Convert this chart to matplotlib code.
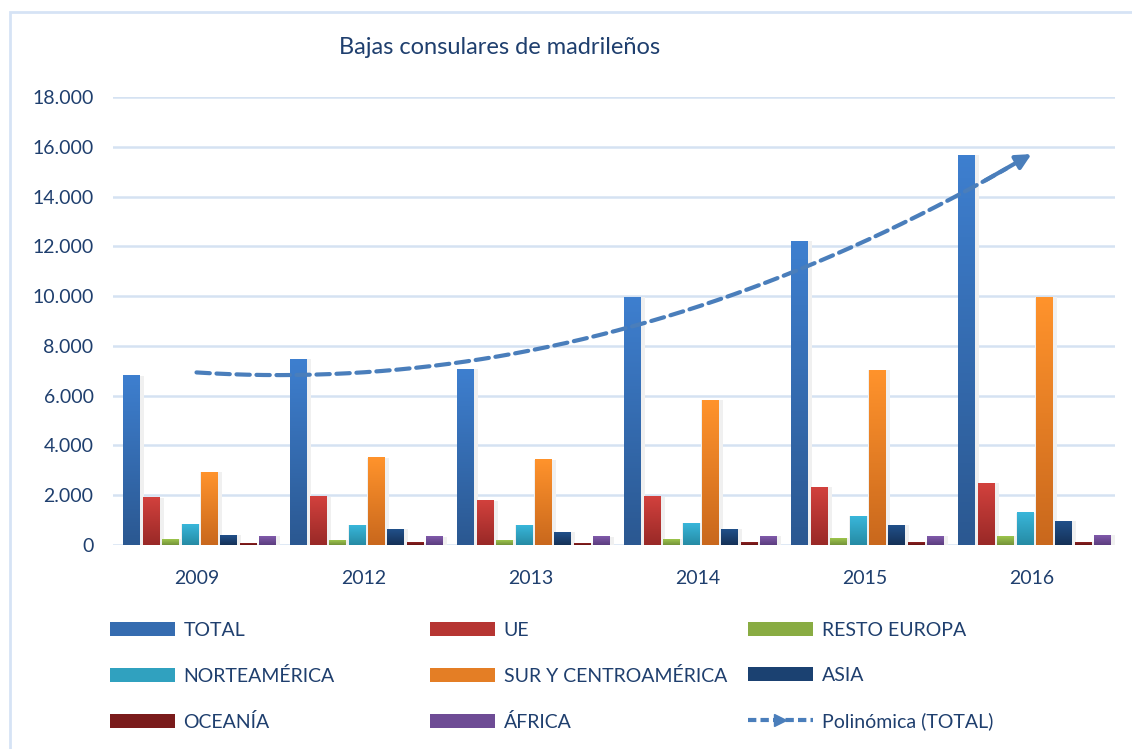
import numpy as np
import matplotlib
matplotlib.use('Agg')
import matplotlib.pyplot as plt
from matplotlib.patches import Patch, Rectangle
from matplotlib.lines import Line2D
from matplotlib.colors import LinearSegmentedColormap
from matplotlib.ticker import FuncFormatter

plt.rcParams['font.family'] = ['Lato', 'DejaVu Sans']

# data
years = ['2009', '2012', '2013', '2014', '2015', '2016']
series = ['TOTAL', 'UE', 'RESTO EUROPA', 'NORTEAMÉRICA', 'SUR Y CENTROAMÉRICA',
          'ASIA', 'OCEANÍA', 'ÁFRICA']
total = [6800, 7470, 7070, 9960, 12210, 15660]
ue = [1890, 1930, 1770, 1930, 2330, 2490]
resto_europa = [240, 200, 200, 240, 280, 360]
norteamerica = [840, 800, 800, 880, 1160, 1290]
sur_centro = [2930, 3500, 3420, 5820, 7030, 9960]
asia = [400, 640, 520, 640, 800, 960]
oceania = [50, 100, 80, 120, 120, 120]
africa = [360, 340, 330, 360, 360, 400]
values = [total, ue, resto_europa, norteamerica, sur_centro, asia, oceania, africa]

# gradient colours (top, bottom)
colors = [('#3E7FCF', '#2B5891'), ('#D2413D', '#992927'), ('#9DC54C', '#74933A'),
          ('#39B6DA', '#268BA4'), ('#FF932C', '#C9681D'), ('#21508A', '#153157'),
          ('#8E2222', '#661414'), ('#805AAB', '#5C3D7E')]
txt = '#1F3F6E'

fig = plt.figure(figsize=(11.32, 7.49), dpi=100)
ax = fig.add_axes([113 / 1132, 1 - 545 / 749, 1002 / 1132, 448 / 749])

x = np.arange(len(years))
pitch = 0.116
bw = 0.099
for i, (vals, (ctop, cbot)) in enumerate(zip(values, colors)):
    pos = x + (i - 3.5) * pitch + 0.018
    # soft shadow
    ax.bar(pos + 0.012, vals, bw + 0.03, color='#F0F0F0', zorder=1)
    bars = ax.bar(pos, vals, bw, color=cbot, zorder=3)
    cmap = LinearSegmentedColormap.from_list('g%d' % i, [cbot, ctop])
    grad = np.linspace(0, 1, 100).reshape(-1, 1)
    for b in bars:
        ax.imshow(grad, cmap=cmap, origin='lower', aspect='auto', zorder=3.5,
                  extent=[b.get_x(), b.get_x() + b.get_width(), 0, b.get_height()])

# polynomial trend (order 2) over TOTAL
coef = np.polyfit(x, total, 2)
xt = np.linspace(0, 5, 200)
yt = np.polyval(coef, xt)
ax.plot(xt[:-6], yt[:-6], color='#4A7EBB', lw=3, ls=(0, (3.2, 1.6)),
        dash_capstyle='round', zorder=5)
ax.annotate('', xy=(xt[-1], yt[-1]), xytext=(xt[-12], yt[-12]),
            arrowprops=dict(arrowstyle='-|>,head_length=0.9,head_width=0.45',
                            color='#4A7EBB', lw=3, shrinkA=0, shrinkB=0), zorder=6)

ax.set_xlim(-0.5, 5.5)
ax.set_ylim(0, 18000)
ax.set_yticks(np.arange(0, 18001, 2000))
ax.yaxis.set_major_formatter(FuncFormatter(lambda v, p: '{:,.0f}'.format(v).replace(',', '.')))
ax.set_xticks(x)
ax.set_xticklabels(years)
ax.grid(axis='y', color='#D5E2F2', lw=1.8, zorder=0)
ax.set_axisbelow(True)
for s in ax.spines.values():
    s.set_visible(False)
ax.tick_params(length=0, labelsize=14, colors=txt)
ax.tick_params(axis='y', pad=14)
ax.tick_params(axis='x', pad=18)

fig.text(500 / 1132, 1 - 48 / 749, 'Bajas consulares de madrileños', ha='center',
         va='center', fontsize=17, color=txt)

# frame around the chart
fig.patches.append(Rectangle((10 / 1132, -0.1), 1.2, 1 - 12 / 749 + 0.1,
                             transform=fig.transFigure, fill=False,
                             edgecolor='#D6E3F5', lw=2))

# legend in three columns
handles = [Patch(facecolor=c[1], edgecolor='none') for c in colors]
handles = []
for ctop, cbot in colors:
    mid = LinearSegmentedColormap.from_list('m', [cbot, ctop])(0.5)
    handles.append(Patch(facecolor=mid, edgecolor='none'))
handles.append(Line2D([0], [0], color='#4A7EBB', lw=3, ls=(0, (2, 1)),
                      marker='>', markevery=[1], markersize=9))
labels = series + ['Polinómica (TOTAL)']
order = [[0, 3, 6], [1, 4, 7], [2, 5, 8]]
colx = [100, 420, 738]
for cx, idx in zip(colx, order):
    leg = fig.legend([handles[k] for k in idx], [labels[k] for k in idx],
                     loc='upper left', bbox_to_anchor=(cx / 1132, 1 - 612 / 749),
                     frameon=False, fontsize=14, handlelength=3.35, handleheight=0.75,
                     handletextpad=0.45, labelspacing=1.45, borderpad=0)
    for t in leg.get_texts():
        t.set_color(txt)

fig.savefig('out.png', dpi=100)
